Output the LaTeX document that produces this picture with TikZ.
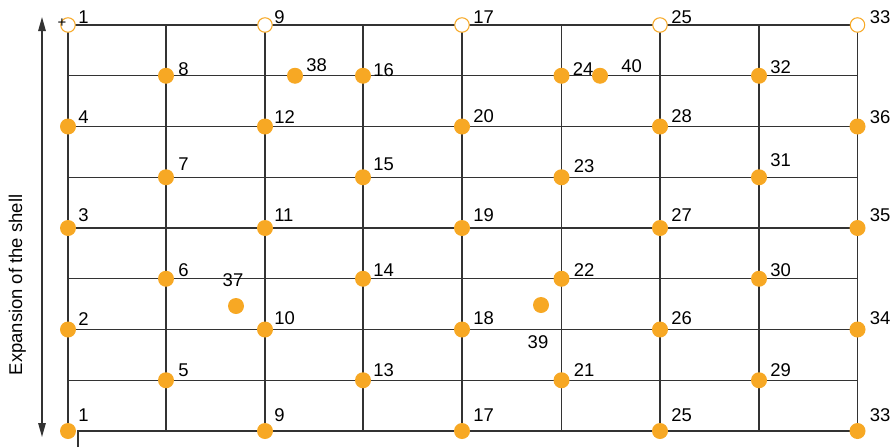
\documentclass[tikz,border=0pt]{standalone}
\usepackage{fontspec}
\setmainfont{Liberation Sans}
\usetikzlibrary{arrows.meta,positioning}
\definecolor{shellorange}{RGB}{247,168,36}

\begin{document}
\begin{tikzpicture}[
    x=0.02cm, y=-0.02cm,
    every node/.style={font=\fontsize{10.5}{12}\selectfont},
    grid/.style={draw=black!80, line width=0.7pt},
    knot/.style={circle, fill=shellorange, inner sep=0pt, minimum size=0.32cm},
    openknot/.style={circle, draw=shellorange, fill=white, line width=0.6pt, inner sep=0pt, minimum size=0.29cm},
    num/.style={anchor=south west, inner sep=0pt},
    axis/.style={{Triangle[length=2.8mm,width=1.5mm]}-{Triangle[length=2.8mm,width=1.5mm]}, line width=0.7pt, draw=black!80}
]
\useasboundingbox (0,0) rectangle (896,447);
% mesh of the shell
\foreach \gx in {68,166,265,363,462,561.5,660,759,857.5}
    \draw[grid] (\gx,25) -- (\gx,431);
\foreach \gy in {25,75.75,126.5,177.25,228,278.75,329.5,380.25}
    \draw[grid] (68,\gy) -- (857.5,\gy);
\draw[grid] (78,447) -- (78,431) -- (857.5,431);
% nodes on the mesh
\foreach \nm/\px/\txt/\dx in {n1t/68/1/10, n9t/265/9/9, n17t/462/17/11, n25t/660/25/11, n33t/857.5/33/12}{
    \node[openknot] (\nm) at (\px,25) {};
    \node[num] (\nm-lbl) at (\px+\dx,24) {\txt};
}
\foreach \nm/\px/\py/\txt/\dx/\dy in {
    n4/68/126.5/4/10/-3, n3/68/228/3/10/-6, n2/68/329.5/2/10/-4, n1/68/431/1/10/-9,
    n8/166/75.75/8/12/0, n7/166/177.25/7/12/-6, n6/166/278.75/6/12/-2, n5/166/380.25/5/12/-3,
    n12/265/126.5/12/9/-3, n11/265/228/11/9/-6, n10/265/329.5/10/9/-4, n9/265/431/9/9/-9,
    n16/363/75.75/16/10/1, n15/363/177.25/15/10/-6, n14/363/278.75/14/10/-2, n13/363/380.25/13/10/-3,
    n20/462/126.5/20/11/-3, n19/462/228/19/11/-6, n18/462/329.5/18/11/-4, n17/462/431/17/11/-9,
    n24/561.5/75.75/24/11/0, n23/561.5/177.25/23/12/-4, n22/561.5/278.75/22/12/-2, n21/561.5/380.25/21/12/-3,
    n28/660/126.5/28/11/-3, n27/660/228/27/11/-6, n26/660/329.5/26/11/-4, n25/660/431/25/11/-9,
    n32/759/75.75/32/11/-2, n31/759/177.25/31/11/-10, n30/759/278.75/30/11/-2, n29/759/380.25/29/11/-3,
    n36/857.5/126.5/36/12/-2, n35/857.5/228/35/12/-6, n34/857.5/329.5/34/12/-4, n33/857.5/431/33/12/-9}{
    \node[knot] (\nm) at (\px,\py) {};
    \node[num] (\nm-lbl) at (\px+\dx,\py+\dy) {\txt};
}
% extra nodes
\node[knot] (n38) at (295,75.75) {};
\node[num] (n38-lbl) at (306,72) {38};
\node[knot] (n40) at (600,75.75) {};
\node[num] (n40-lbl) at (621,73) {40};
\node[knot] (n37) at (236,306) {};
\node[anchor=south, inner sep=0pt] (n37-lbl) at (233,287) {37};
\node[knot] (n39) at (541,305) {};
\node[anchor=north, inner sep=0pt] (n39-lbl) at (538,335) {39};
\node[inner sep=0pt, font=\fontsize{8.5}{10}\selectfont] (plus) at (62,23) {+};
% expansion axis
\coordinate (axtop) at (42,17);
\coordinate (axbot) at (42,437);
\draw[axis] (axbot) -- (axtop);
\node[rotate=90, anchor=base, inner sep=0pt] (axlabel) at (22,285) {Expansion of the shell};
\end{tikzpicture}
\end{document}
